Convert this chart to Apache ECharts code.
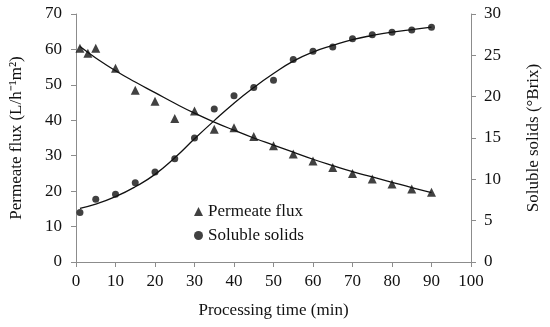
<!DOCTYPE html>
<html><head><meta charset="utf-8">
<script src="https://cdn.jsdelivr.net/npm/echarts@6/dist/echarts.min.js"></script>
<style>html,body{margin:0;padding:0;background:#fff}#c{width:550px;height:327px}</style>
</head><body><div id="c"></div>
<script>
var fluxTime = [1, 3, 5, 10, 15, 20, 25, 30, 35, 40, 45, 50, 55, 60, 65, 70, 75, 80, 85, 90];
var fluxValues = [60.3, 58.9, 60.3, 54.7, 48.5, 45.4, 40.5, 42.6, 37.5, 37.9, 35.4, 32.8, 30.5, 28.5, 26.7, 25.0, 23.4, 22.0, 20.6, 19.7];
var solidsTime = [1, 5, 10, 15, 20, 25, 30, 35, 40, 45, 50, 55, 60, 65, 70, 75, 80, 85, 90];
var solidsValues = [6.0, 7.6, 8.2, 9.6, 10.9, 12.5, 15.0, 18.5, 20.1, 21.1, 22.0, 24.5, 25.5, 26.0, 27.0, 27.5, 27.8, 28.05, 28.4];
var trendTime = [1, 5, 10, 15, 20, 25, 30, 35, 40, 45, 50, 55, 60, 65, 70, 75, 80, 85, 90];
var fluxTrend = [60.8, 57.6, 54.0, 50.8, 47.8, 44.8, 42.0, 39.5, 37.2, 35.0, 33.0, 31.0, 29.0, 27.2, 25.5, 24.0, 22.5, 21.0, 19.6];
var solidsTrend = [6.5, 7.0, 7.9, 9.1, 10.6, 12.6, 14.9, 17.1, 19.2, 21.1, 22.8, 24.3, 25.4, 26.2, 26.9, 27.4, 27.8, 28.1, 28.4];
var xTicks = [0, 10, 20, 30, 40, 50, 60, 70, 80, 90, 100];

function pairs(xs, ys) { return xs.map(function (x, i) { return [x, ys[i]]; }); }

var FONT = 'Liberation Serif';
var axisGray = '#8c8c8c';
var chart = echarts.init(document.getElementById('c'));
chart.setOption({
  animation: false,
  textStyle: { fontFamily: FONT },
  grid: { left: 72, right: 76, top: 14, bottom: 65 },
  legend: {
    orient: 'vertical', left: 189, top: 198, itemGap: 7,
    itemWidth: 9, itemHeight: 9,
    textStyle: { fontFamily: FONT, fontSize: 17, color: '#111' },
    data: [
      { name: 'Permeate flux', icon: 'triangle' },
      { name: 'Soluble solids', icon: 'circle' }
    ]
  },
  xAxis: {
    type: 'value', min: 0, max: 100, interval: 10,
    name: 'Processing time (min)', nameLocation: 'middle', nameGap: 40,
    nameTextStyle: { fontFamily: FONT, fontSize: 17, color: '#111' },
    axisLine: { lineStyle: { color: axisGray } },
    axisTick: { show: true, inside: false, length: 5, lineStyle: { color: axisGray } },
    axisLabel: { fontFamily: FONT, fontSize: 17, color: '#111', margin: 11,
      formatter: function (v) { return xTicks.indexOf(v) >= 0 ? String(v) : ''; } },
    splitLine: { show: false }
  },
  yAxis: [
    {
      type: 'value', min: 0, max: 70, interval: 10,
      name: 'Permeate flux (L/h\u207B\u00B9m\u00B2)', nameLocation: 'middle', nameGap: 51,
      nameTextStyle: { fontFamily: FONT, fontSize: 17, color: '#111' },
      axisLine: { show: true, lineStyle: { color: axisGray } },
      axisTick: { show: true, inside: false, length: 5, lineStyle: { color: axisGray } },
      axisLabel: { fontFamily: FONT, fontSize: 17, color: '#111', margin: 14 },
      splitLine: { show: false }
    },
    {
      type: 'value', min: 0, max: 30, interval: 5, position: 'right',
      name: 'Soluble solids (\u00B0Brix)', nameLocation: 'middle', nameGap: 54, nameRotate: 90,
      nameTextStyle: { fontFamily: FONT, fontSize: 17, color: '#111' },
      axisLine: { show: true, lineStyle: { color: axisGray } },
      axisTick: { show: true, inside: false, length: 5, lineStyle: { color: axisGray } },
      axisLabel: { fontFamily: FONT, fontSize: 17, color: '#111', margin: 13 },
      splitLine: { show: false }
    }
  ],
  series: [
    { name: 'Permeate flux', type: 'scatter', yAxisIndex: 0, symbol: 'triangle', symbolSize: 9,
      itemStyle: { color: '#111' }, data: pairs(fluxTime, fluxValues), z: 3 },
    { name: 'Soluble solids', type: 'scatter', yAxisIndex: 1, symbol: 'circle', symbolSize: 7,
      itemStyle: { color: '#111' }, data: pairs(solidsTime, solidsValues), z: 3 },
    { name: 'fluxTrend', type: 'line', yAxisIndex: 0, smooth: true, showSymbol: false, symbol: 'none',
      lineStyle: { color: '#111', width: 1.3 }, data: pairs(trendTime, fluxTrend), z: 2 },
    { name: 'solidsTrend', type: 'line', yAxisIndex: 1, smooth: true, showSymbol: false, symbol: 'none',
      lineStyle: { color: '#111', width: 1.3 }, data: pairs(trendTime, solidsTrend), z: 2 }
  ]
});
</script></body></html>
